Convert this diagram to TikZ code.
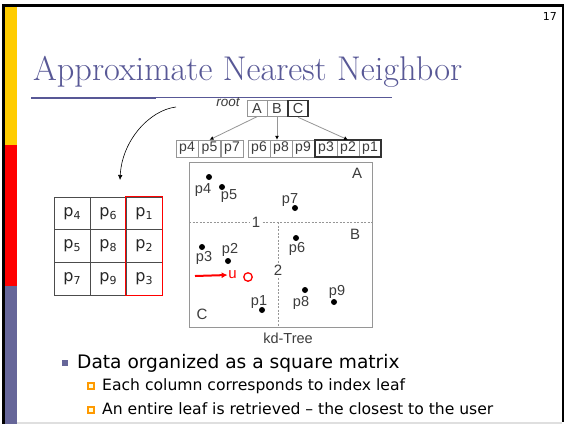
\documentclass[tikz,border=0pt]{standalone}
\usepackage{fontspec}
\newfontfamily\verd{DejaVu Sans}
\newfontfamily\arial{Liberation Sans}
\usetikzlibrary{arrows.meta}
\definecolor{titlecol}{RGB}{88,88,150}
\definecolor{barblue}{RGB}{102,102,153}
\definecolor{baryellow}{RGB}{255,204,0}
\definecolor{bulletorange}{RGB}{255,153,0}
\definecolor{kdgray}{RGB}{150,150,150}
\definecolor{kdtext}{RGB}{60,60,60}
\tikzset{
  treecell/.style={draw=kdgray, minimum width=20pt, minimum height=16pt, inner sep=0pt, font=\arial\fontsize{14.5}{14.5}\selectfont, text=kdtext},
  leafcell/.style={draw=kdgray, minimum width=22pt, minimum height=17pt, inner sep=0pt, font=\arial\fontsize{14}{14}\selectfont, text=kdtext},
  treearrow/.style={draw=kdgray, line width=0.8pt, -{Latex[length=4pt,width=4pt,color=black]}},
  kddash/.style={draw=kdgray, line width=0.8pt, dash pattern=on 2pt off 1.5pt},
  dot/.style={circle, fill=black, minimum size=6pt, inner sep=0pt},
  plabel/.style={font=\arial\fontsize{14.5}{14.5}\selectfont, text=kdtext, inner sep=0pt},
  mcell/.style={draw=gray!60!black, minimum width=36pt, minimum height=32.7pt, inner sep=0pt, font=\verd\fontsize{16}{16}\selectfont, text=black!85},
  subbox/.style={draw=bulletorange, line width=1.3pt, fill=yellow!15, minimum size=6pt, inner sep=0pt},
}
\newcommand{\psub}[1]{p\raisebox{-3pt}{\fontsize{11}{11}\selectfont #1}}
\begin{document}
\begin{tikzpicture}[x=1pt,y=-1pt]
\useasboundingbox (0,0) rectangle (564,424);
% frame and bars
\fill[white] (0,0) rectangle (564,424);
\fill[baryellow] (5,6) rectangle (17,145);
\fill[red] (5,145) rectangle (17,286);
\fill[barblue] (5,286) rectangle (17,424);
\fill[black] (2,4) rectangle (5,424);
\fill[black] (2,4) rectangle (564,6.5);
\fill[black] (562,4) rectangle (564,422);
\fill[gray!25] (17,422) rectangle (562,424);
% page number
\node[font=\verd\fontsize{11}{11}\selectfont, anchor=base east, inner sep=0pt] (pnum) at (557,20) {17};
% title
\node[anchor=base west, text=titlecol, font=\fontsize{34.3}{34.3}\selectfont, inner sep=0pt] (title) at (33,80) {Approximate Nearest Neighbor};
\draw[titlecol, line width=1pt] (31,97) -- (392,97);
\draw[titlecol, line width=2pt] (31,97.5) -- (156,97.5);
% kd-tree index
\node[font=\arial\itshape\fontsize{13.5}{13.5}\selectfont, text=kdtext, inner sep=0pt] (root) at (228,102.5) {root};
\node[treecell] (A) at (257,108.5) {A};
\node[treecell] (B) at (277,108.5) {B};
\node[treecell, draw=black!80, line width=1.5pt, minimum width=20pt] (C) at (298,108.5) {C};
\node[leafcell] (p4b) at (187,148.5) {p4};
\node[leafcell] (p5b) at (209.5,148.5) {p5};
\node[leafcell] (p7b) at (232,148.5) {p7};
\node[leafcell] (p6b) at (259,148.5) {p6};
\node[leafcell] (p8b) at (281,148.5) {p8};
\node[leafcell] (p9b) at (303,148.5) {p9};
\node[leafcell] (p3b) at (326,148.5) {p3};
\node[leafcell] (p2b) at (348,148.5) {p2};
\node[leafcell] (p1b) at (370,148.5) {p1};
\draw[black!80, line width=1.5pt] (p3b.north west) rectangle (p1b.south east);
\draw[treearrow] (A.south) -- (p5b.north);
\draw[treearrow] (B.south) -- (B.south |- p8b.north);
\draw[treearrow] (C.south) -- (p2b.north);
% kd-tree space
\node[draw=kdgray, line width=0.8pt, minimum width=183pt, minimum height=165pt, anchor=north west, inner sep=0pt] (kd) at (189,162) {};
\coordinate (h1) at (189,222);
\coordinate (h2) at (372,222);
\coordinate (v1) at (278,222);
\coordinate (v2) at (278,327);
\draw[kddash] (h1) -- (h2);
\draw[kddash] (v1) -- (v2);
\node[plabel, fill=white, inner sep=1.5pt, font=\arial\fontsize{15}{15}\selectfont] (l1) at (256,222) {1};
\node[plabel, fill=white, inner sep=1.5pt, font=\arial\fontsize{15}{15}\selectfont] (l2) at (278,270) {2};
\node[plabel, font=\arial\fontsize{15}{15}\selectfont] (rA) at (357,173) {A};
\node[plabel, font=\arial\fontsize{15}{15}\selectfont] (rB) at (355,234) {B};
\node[plabel, font=\arial\fontsize{15}{15}\selectfont] (rC) at (202,314) {C};
\node[dot] (d4) at (209,177) {};
\node[plabel] at (203,190) {p4};
\node[dot] (d5) at (222,187) {};
\node[plabel] at (229,196) {p5};
\node[dot] (d7) at (295,208) {};
\node[plabel] at (290,200) {p7};
\node[dot] (d6) at (296,238) {};
\node[plabel] at (297,249) {p6};
\node[dot] (d3) at (202,247) {};
\node[plabel] at (204,258) {p3};
\node[dot] (d2) at (228,261) {};
\node[plabel] at (230,250) {p2};
\node[dot] (d1) at (262,310) {};
\node[plabel] at (259,302) {p1};
\node[dot] (d8) at (305,290) {};
\node[plabel] at (301,303) {p8};
\node[dot] (d9) at (334,302) {};
\node[plabel] at (337,292) {p9};
% user
\coordinate (ustart) at (195,276);
\node[text=red, font=\arial\fontsize{15}{15}\selectfont, inner sep=0.5pt] (u) at (232.5,275) {u};
\node[circle, draw=red, line width=1.3pt, minimum size=8.5pt, inner sep=0pt] (uc) at (248,277) {};
\draw[red, line width=2pt, -{Latex[length=6pt,width=6pt]}] (ustart) -- (u.west);
\node[font=\arial\fontsize{14.5}{14.5}\selectfont, text=kdtext] (kdlabel) at (288,338) {kd-Tree};
% curved arrow
\coordinate (cs) at (176,107);
\coordinate (ce) at (120,180);
\draw[black, line width=0.6pt, -{Latex[length=5pt,width=4.5pt]}] (cs) .. controls (150,110) and (122,140) .. (ce);
% matrix
\node[mcell] (m11) at (72,213.3) {\psub{4}};
\node[mcell] (m12) at (108,213.3) {\psub{6}};
\node[mcell] (m13) at (144,213.3) {\psub{1}};
\node[mcell] (m21) at (72,246) {\psub{5}};
\node[mcell] (m22) at (108,246) {\psub{8}};
\node[mcell] (m23) at (144,246) {\psub{2}};
\node[mcell] (m31) at (72,278.7) {\psub{7}};
\node[mcell] (m32) at (108,278.7) {\psub{9}};
\node[mcell] (m33) at (144,278.7) {\psub{3}};
\draw[red, line width=1.3pt] (m13.north west) rectangle (m33.south east);
% bullets
\node[fill=barblue, minimum size=6.5pt, inner sep=0pt] (b1) at (65,363) {};
\node[anchor=base west, font=\verd\fontsize{18.6}{18.6}\selectfont, inner sep=0pt] (t1) at (77,368) {Data organized as a square matrix};
\node[subbox] (b2) at (91,386) {};
\node[anchor=base west, font=\verd\fontsize{15.6}{15.6}\selectfont, inner sep=0pt] (t2) at (102,390.5) {Each column corresponds to index leaf};
\node[subbox] (b3) at (91,410) {};
\node[anchor=base west, font=\verd\fontsize{15.6}{15.6}\selectfont, inner sep=0pt] (t3) at (102,414) {An entire leaf is retrieved – the closest to the user};
\end{tikzpicture}
\end{document}
